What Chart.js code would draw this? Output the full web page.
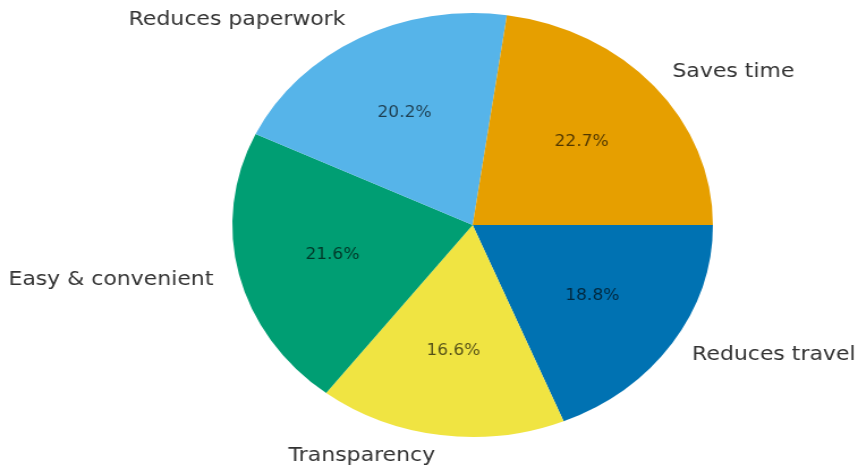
<!DOCTYPE html>
<html>
<head>
<meta charset="utf-8">
<script src="https://cdn.jsdelivr.net/npm/chart.js@4"></script>
<style>
  html, body { margin: 0; padding: 0; background: #fff; overflow: hidden; }
  canvas { display: block; }
</style>
</head>
<body>
<!-- drawn at 757 wide, shown at 858 wide -->
<canvas id="pieChart" width="757" height="471" style="width:858px;height:471px"></canvas>
<script>
// Benefits share (%), listed counter-clockwise from 3 o'clock
var categories = ["Saves time", "Reduces paperwork", "Easy & convenient", "Transparency", "Reduces travel"];
var shares = [22.7, 20.2, 21.6, 16.6, 18.8];
var colors = ["#E69F00", "#56B4E9", "#009E73", "#F0E442", "#0072B2"];

// Chart.js goes clockwise, so feed the slices in reverse
var labelsCW = categories.slice().reverse();
var sharesCW = shares.slice().reverse();
var colorsCW = colors.slice().reverse();

var sliceText = {
    id: 'sliceText',
    afterDatasetsDraw: function (chart) {
        var ctx = chart.ctx;
        var arcs = chart.getDatasetMeta(0).data;
        ctx.save();
        arcs.forEach(function (arc, i) {
            var p = arc.getProps(['x', 'y', 'startAngle', 'endAngle', 'outerRadius'], true);
            var mid = (p.startAngle + p.endAngle) / 2;
            var c = Math.cos(mid), s = Math.sin(mid);

            // percentage inside the slice
            ctx.font = '15px "DejaVu Sans"';
            ctx.fillStyle = 'rgba(0,0,0,0.65)';
            ctx.textAlign = 'center';
            ctx.textBaseline = 'middle';
            ctx.fillText(sharesCW[i].toFixed(1) + '%', p.x + c * p.outerRadius * 0.6, p.y + s * p.outerRadius * 0.6);

            // category name outside
            ctx.font = '19.4px "DejaVu Sans"';
            ctx.fillStyle = '#333';
            ctx.textAlign = c >= 0 ? 'left' : 'right';
            var gap = c >= 0 ? 0 : -2;
            ctx.fillText(labelsCW[i], p.x + c * p.outerRadius * 1.1 + gap, p.y + s * p.outerRadius * 1.1);
        });
        ctx.restore();
    }
};

new Chart(document.getElementById('pieChart').getContext('2d'), {
    type: 'pie',
    data: {
        labels: labelsCW,
        datasets: [{
            data: sharesCW,
            backgroundColor: colorsCW,
            borderWidth: 0
        }]
    },
    options: {
        responsive: false,
        devicePixelRatio: 1,
        animation: false,
        rotation: 90,
        layout: { padding: { top: 13, bottom: 34, left: 205, right: 128 } },
        plugins: {
            legend: { display: false },
            tooltip: { enabled: false }
        }
    },
    plugins: [sliceText]
});
</script>
</body>
</html>
